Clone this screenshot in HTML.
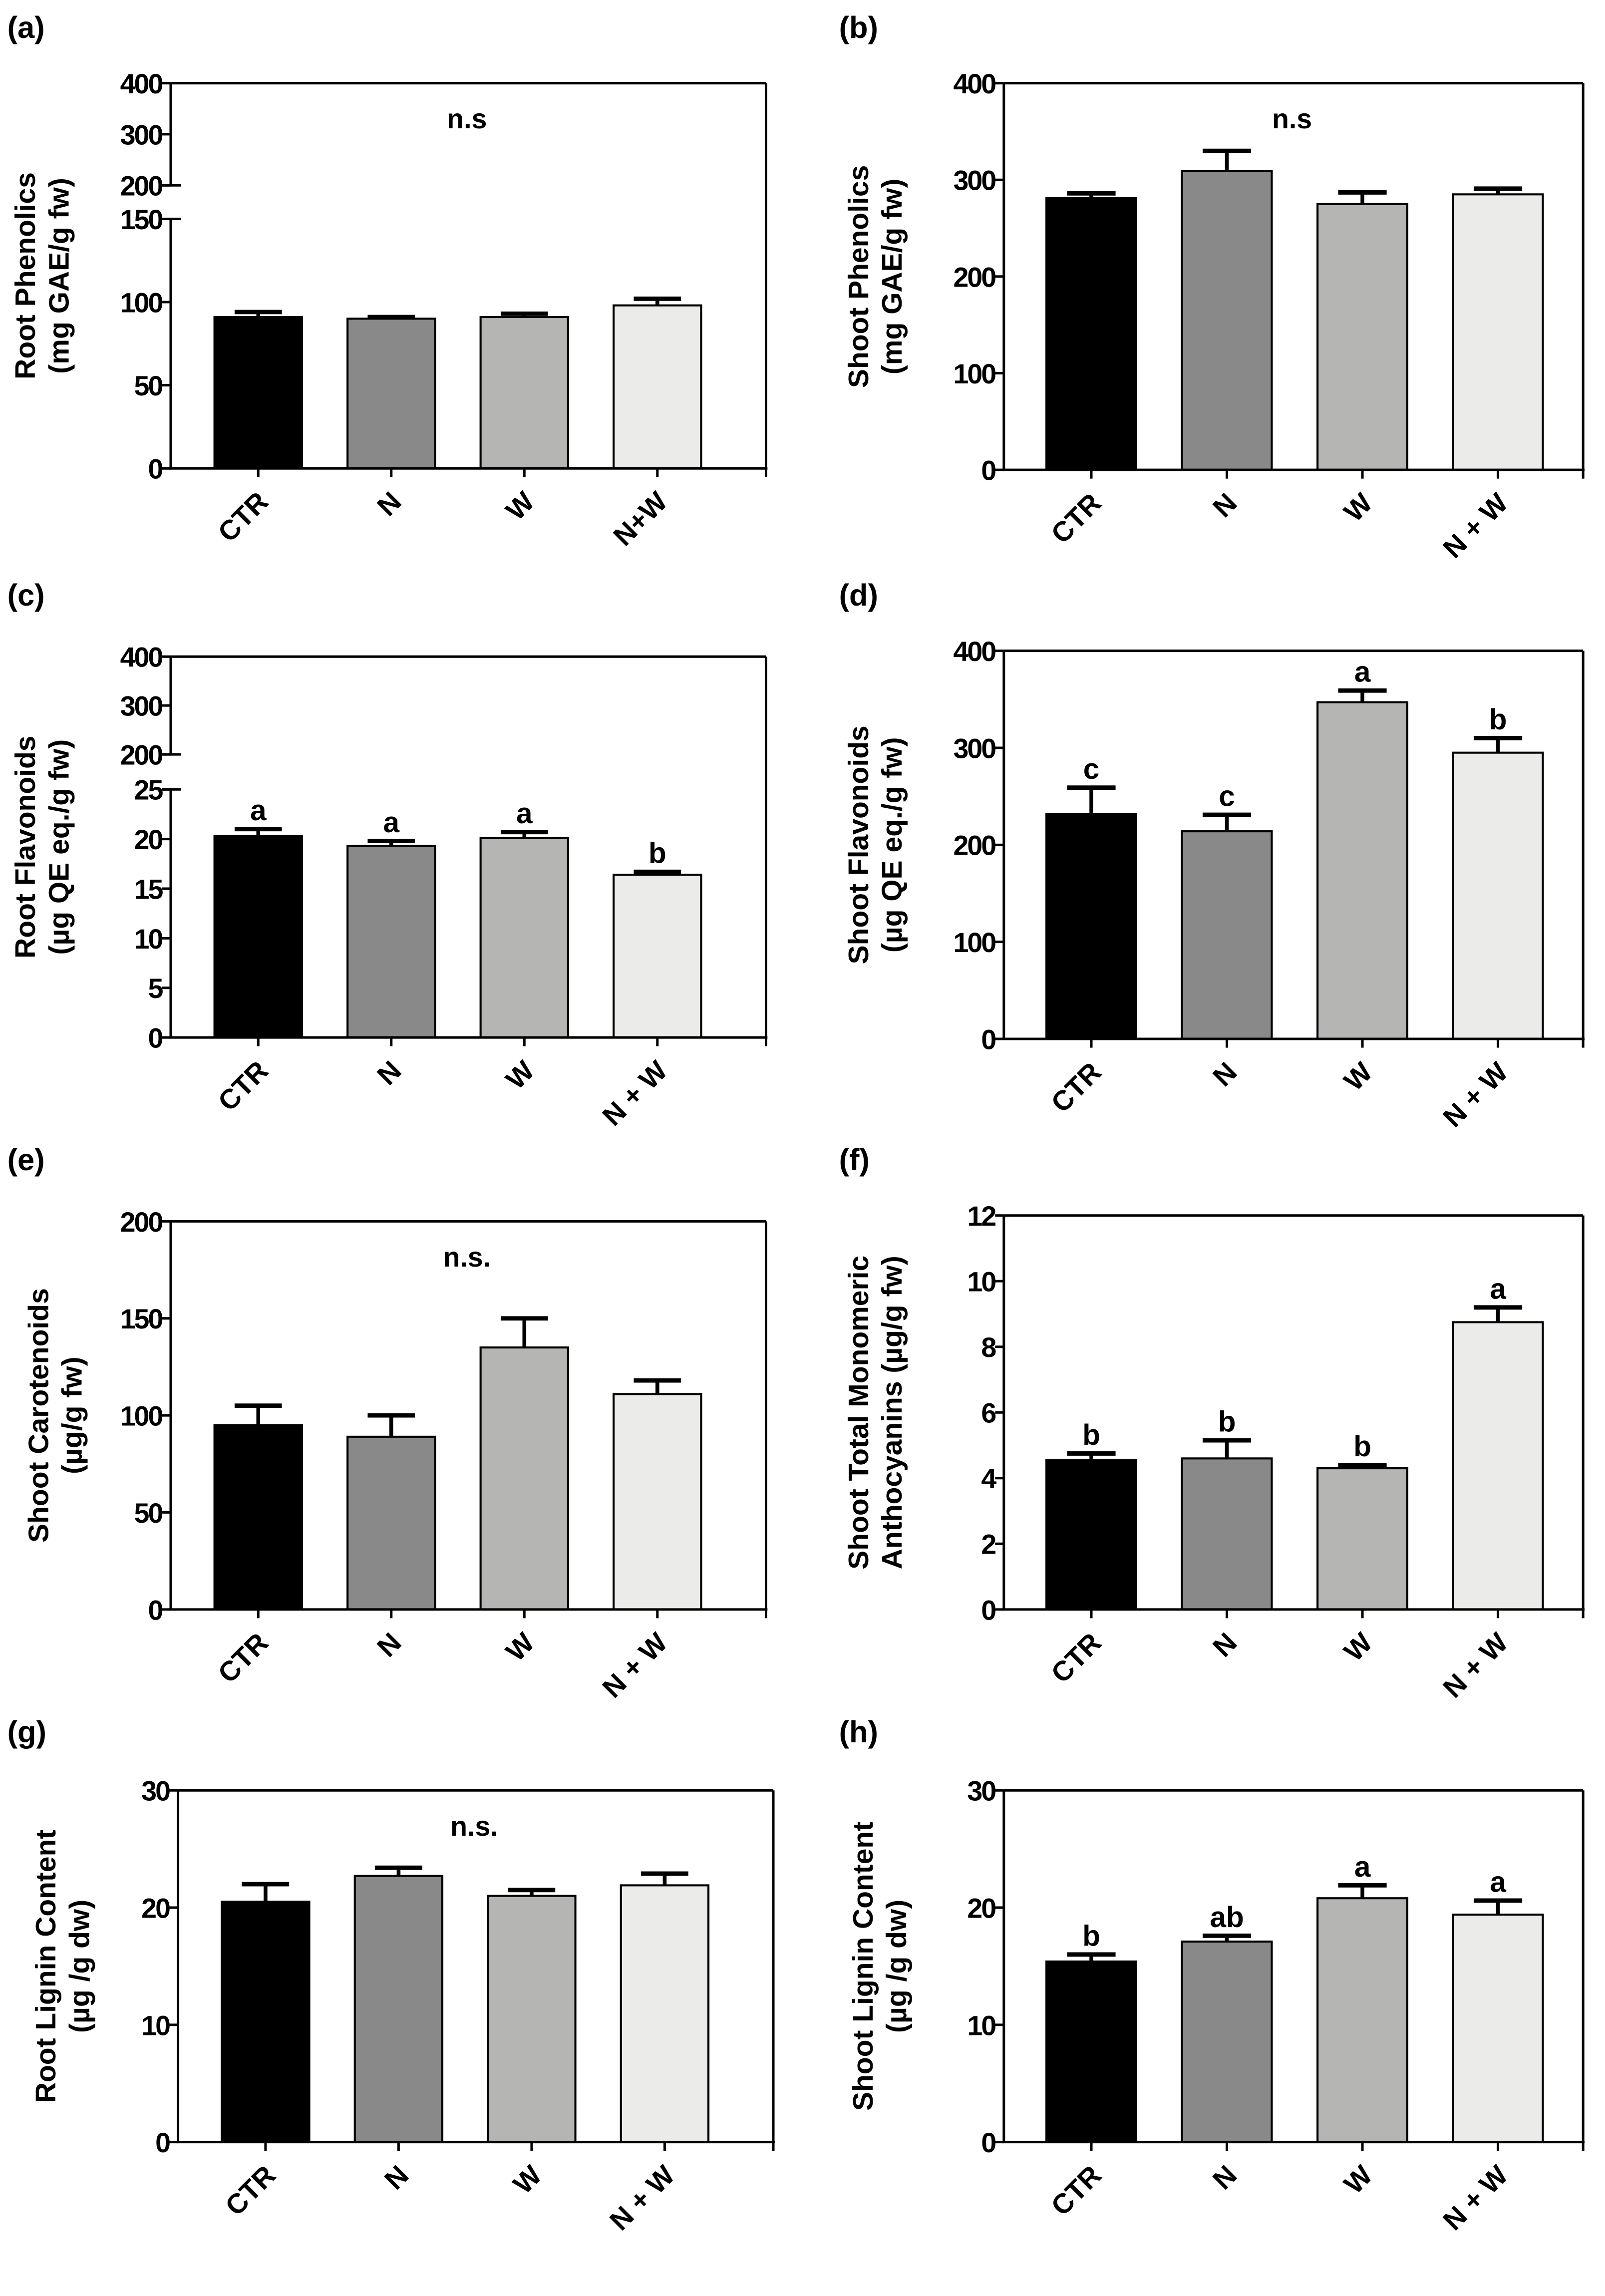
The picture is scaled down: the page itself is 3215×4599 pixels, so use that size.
<!DOCTYPE html>
<html><head><meta charset="utf-8">
<style>
html,body{margin:0;padding:0;background:#fff;}
svg{display:block;}
text{font-family:"Liberation Sans",sans-serif;font-weight:bold;fill:#000;}
</style></head>
<body>
<svg id="fig" width="3215" height="4599" viewBox="0 0 1100 1573.5" xmlns="http://www.w3.org/2000/svg"></svg>
<script>
const categories = ["CTR","N","W","N + W"];
const catsA = ["CTR","N","W","N+W"];
const fills = ["#000000","#898989","#b5b5b3","#ebecea"];

const valsA = [91, 90, 91, 98];      const errA = [3, 1, 2, 4];
const valsB = [281, 309, 275, 285];  const errB = [5, 21, 12, 6];
const valsC = [20.3, 19.3, 20.1, 16.4]; const errC = [0.7, 0.5, 0.6, 0.3];
const valsD = [232, 214, 347, 295];  const errD = [27, 17, 12, 15];
const valsE = [95, 89, 135, 111];    const errE = [10, 11, 15, 7];
const valsF = [4.55, 4.6, 4.3, 8.75]; const errF = [0.2, 0.55, 0.1, 0.45];
const valsG = [20.5, 22.7, 21.0, 21.9]; const errG = [1.5, 0.7, 0.5, 1.0];
const valsH = [15.4, 17.1, 20.8, 19.4]; const errH = [0.6, 0.5, 1.1, 1.2];

const lettersC = ["a","a","a","b"];
const lettersD = ["c","c","a","b"];
const lettersF = ["b","b","b","a"];
const lettersH = ["b","ab","a","a"];

const ticksA_low = [0,50,100,150]; const ticksA_up = [200,300,400];
const ticksB = [0,100,200,300,400];
const ticksC_low = [0,5,10,15,20,25]; const ticksC_up = [200,300,400];
const ticksD = [0,100,200,300,400];
const ticksE = [0,50,100,150,200];
const ticksF = [0,2,4,6,8,10,12];
const ticksG = [0,10,20,30];
const ticksH = [0,10,20,30];

const svg = document.getElementById('fig');
const NS = "http://www.w3.org/2000/svg";
function mk(tag, attrs, parent){
  const e = document.createElementNS(NS, tag);
  for (const k in attrs) e.setAttribute(k, attrs[k]);
  (parent||svg).appendChild(e);
  return e;
}

function panel(o){
  const g = mk('g', {});
  
  
  const L=o.x0, R=o.x1, T=o.top, B=o.bot;
  const pl = mk('text', {x:o.labX, y:o.labY, 'font-size':21}, g);
  pl.textContent = '(' + o.id + ')';
  
  
  let yOf, brk = null;
  if (o.broken){
    brk = o.broken;
    yOf = v => v <= brk.lowMax ? B - (v/brk.lowMax)*(B-brk.lowTop)
                               : brk.upBot - (v-brk.upMin)/(o.max-brk.upMin)*(brk.upBot-T);
  } else {
    yOf = v => B - v/o.max*(B-T);
  }
  const xc = [0,1,2,3].map(i => L + (R-L)*(o.f0 + o.fs*i));
  const bw = (R-L)*o.bwf;
  o.vals.forEach((v,i)=>{
    const yv = yOf(v), ye = yOf(v+o.err[i]);
    const ln = mk('line', {x1:xc[i], x2:xc[i], y1:ye, y2:yv, stroke:'#000','stroke-width':2.6}, g);
    
    
    const cap = mk('line', {x1:xc[i]-bw*0.27, x2:xc[i]+bw*0.27, y1:ye, y2:ye, stroke:'#000','stroke-width':3}, g);
    
    
    const r = mk('rect', {x:xc[i]-bw/2, y:yv, width:bw, height:B-yv, fill:fills[i], stroke:'#000','stroke-width':1.4}, g);
    
    
    if (o.letters){
      const t = mk('text', {x:xc[i], y:ye-6, 'font-size':20, 'text-anchor':'middle'}, g);
      t.textContent = o.letters[i];
      
      
    }
  });
  const sw = 1.7;
  mk('line', {x1:L, x2:R, y1:T, y2:T, stroke:'#000','stroke-width':sw}, g);
  mk('line', {x1:R, x2:R, y1:T, y2:B, stroke:'#000','stroke-width':sw}, g);
  mk('line', {x1:L-1, x2:R+1, y1:B, y2:B, stroke:'#000','stroke-width':sw}, g);
  if (brk){
    mk('line', {x1:L, x2:L, y1:T, y2:brk.upBot, stroke:'#000','stroke-width':sw}, g);
    mk('line', {x1:L, x2:L, y1:brk.lowTop, y2:B, stroke:'#000','stroke-width':sw}, g);
    mk('line', {x1:L-6, x2:L+7, y1:brk.upBot, y2:brk.upBot, stroke:'#000','stroke-width':sw}, g);
    mk('line', {x1:L-6, x2:L+7, y1:brk.lowTop, y2:brk.lowTop, stroke:'#000','stroke-width':sw}, g);
  } else {
    mk('line', {x1:L, x2:L, y1:T, y2:B, stroke:'#000','stroke-width':sw}, g);
  }
  o.ticks.forEach(v=>{
    const y = yOf(v);
    mk('line', {x1:L-6, x2:L, y1:y, y2:y, stroke:'#000','stroke-width':sw}, g);
    const t = mk('text', {x:L-6, y:y+7, 'font-size':19, 'text-anchor':'end', 'letter-spacing':'-1'}, g);
    t.textContent = v;
    
    
  });
  xc.forEach((x,i)=>{
    mk('line', {x1:x, x2:x, y1:B, y2:B+6, stroke:'#000','stroke-width':sw}, g);
    const t = mk('text', {x:x+8, y:B+24, 'font-size':19, 'text-anchor':'end', transform:`rotate(-45 ${x+8} ${B+24})`}, g);
    t.textContent = o.cats[i];
    
    
  });
  mk('line', {x1:R, x2:R, y1:B, y2:B+6, stroke:'#000','stroke-width':sw}, g);
  const cy = (T+B)/2;
  o.title.forEach((line,k)=>{
    const tx = o.titleX + k*23;
    const t = mk('text', {x:tx, y:cy, 'font-size':19.5, 'text-anchor':'middle', transform:`rotate(-90 ${tx} ${cy})`}, g);
    t.textContent = line;
    
    
  });
  if (o.ns){
    const t = mk('text', {x:(L+R)/2-1, y:T+31, 'font-size':19, 'text-anchor':'middle'}, g);
    t.textContent = o.ns;
    
    
  }
}

const LX0=117, LX1=525, RX0=688, RX1=1085;
const LC = {f0:0.147, fs:0.2235, bwf:0.147};
const RC = {f0:0.151, fs:0.234, bwf:0.155};
panel(Object.assign({id:'a', x0:LX0, x1:LX1, top:57, bot:321, max:400, vals:valsA, err:errA, ticks:ticksA_low.concat(ticksA_up),
  broken:{lowMax:150, lowTop:150, upMin:200, upBot:127}, cats:catsA, labX:5, labY:26,
  title:["Root Phenolics","(mg GAE/g fw)"], titleX:24, ns:"n.s"}, LC));
panel(Object.assign({id:'b', x0:RX0, x1:RX1, top:57, bot:322, max:400, vals:valsB, err:errB, ticks:ticksB, cats:categories, labX:575, labY:26,
  title:["Shoot Phenolics","(mg GAE/g fw)"], titleX:595, ns:"n.s"}, RC));
panel(Object.assign({id:'c', x0:LX0, x1:LX1, top:450, bot:711, max:400, vals:valsC, err:errC, ticks:ticksC_low.concat(ticksC_up),
  broken:{lowMax:25, lowTop:541, upMin:200, upBot:517}, cats:categories, labX:5, labY:415, letters:lettersC,
  title:["Root Flavonoids","(µg QE eq./g fw)"], titleX:24}, LC));
panel(Object.assign({id:'d', x0:RX0, x1:RX1, top:446, bot:712, max:400, vals:valsD, err:errD, ticks:ticksD, cats:categories, labX:575, labY:415, letters:lettersD,
  title:["Shoot Flavonoids","(µg QE eq./g fw)"], titleX:595}, RC));
panel(Object.assign({id:'e', x0:LX0, x1:LX1, top:837, bot:1103, max:200, vals:valsE, err:errE, ticks:ticksE, cats:categories, labX:5, labY:802,
  title:["Shoot Carotenoids","(µg/g fw)"], titleX:33, ns:"n.s."}, LC));
panel(Object.assign({id:'f', x0:RX0, x1:RX1, top:833, bot:1103, max:12, vals:valsF, err:errF, ticks:ticksF, cats:categories, labX:575, labY:802, letters:lettersF,
  title:["Shoot Total Monomeric","Anthocyanins (µg/g fw)"], titleX:595}, RC));
panel(Object.assign({id:'g', x0:122, x1:530, top:1227, bot:1468, max:30, vals:valsG, err:errG, ticks:ticksG, cats:categories, labX:5, labY:1194,
  title:["Root Lignin Content","(µg /g dw)"], titleX:38, ns:"n.s."}, LC));
panel(Object.assign({id:'h', x0:RX0, x1:RX1, top:1227, bot:1468, max:30, vals:valsH, err:errH, ticks:ticksH, cats:categories, labX:575, labY:1194, letters:lettersH,
  title:["Shoot Lignin Content","(µg /g dw)"], titleX:598}, RC));
</script>
</body></html>
